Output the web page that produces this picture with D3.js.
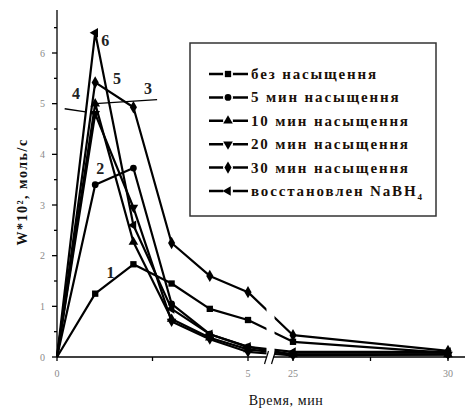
<!DOCTYPE html>
<html><head><meta charset="utf-8">
<script src="https://cdn.jsdelivr.net/npm/d3@7"></script>
<style>body{margin:0;background:#fff} text{font-family:"Liberation Serif","Times New Roman",Tinos,"Noto Serif","DejaVu Serif",serif;}</style>
</head><body><svg id="c" width="470" height="409"></svg>
<script>
// ---- data ----
const times = [0, 1, 2, 3, 4, 5, 25, 30];
const s1 = [0, 1.25, 1.83, 1.45, 0.95, 0.73, 0.30, 0.08];
const s2 = [0, 3.40, 3.73, 1.05, 0.45, 0.20, 0.05, 0.05];
const s3 = [0, 5.00, 2.27, 0.75, 0.38, 0.15, 0.05, 0.05];
const s4 = [0, 4.80, 2.95, 0.70, 0.35, 0.10, 0.03, 0.05];
const s5 = [0, 5.42, 4.93, 2.25, 1.60, 1.28, 0.43, 0.12];
const s6 = [0, 6.40, 2.60, 0.95, 0.45, 0.20, 0.10, 0.10];
const seriesNames = ["без насыщення", "5 мин насыщення", "10 мин насыщення",
  "20 мин насыщення", "30 мин насыщення", "восстановлен NaBH"];
const curveLabels = ["1", "2", "3", "4", "5", "6"];
const curveLabelX = [1.4, 1.13, 2.38, 0.5, 1.57, 1.26];
const curveLabelY = [1.56, 3.61, 5.19, 5.09, 5.39, 6.14];
const yTickLabels = [0, 1, 2, 3, 4, 5, 6];
const yMinorTicks = [0.5, 1.5, 2.5, 3.5, 4.5, 5.5, 6.5];
const xTickLabels = [0, 5, 25, 30];
const xTicksAll = [0, 2.5, 5, 25, 27.5, 30];
const xTitle = "Время, мин";
const yTitle = "W*10², моль/с";

const allSeries = [s1, s2, s3, s4, s5, s6];
const symbols = [
  {t: d3.symbolSquare, s: 40, r: 0},
  {t: d3.symbolCircle, s: 36, r: 0},
  {t: d3.symbolTriangle, s: 40, r: 0},
  {t: d3.symbolTriangle, s: 40, r: 180},
  {t: d3.symbolDiamond, s: 44, r: 0},
  {t: d3.symbolTriangle, s: 40, r: -90}
];

const svg = d3.select("#c");
const x = d3.scaleLinear().domain([0, 5, 25, 30, 30.55]).range([57, 248, 293, 448, 465]);
const y = d3.scaleLinear().domain([0, 6]).range([357, 53]);

// ---- series ----
const line = d3.line().x((d, i) => x(times[i])).y(d => y(d));
allSeries.forEach((s, k) => {
  svg.append("path").attr("d", line(s)).attr("fill", "none")
    .attr("stroke", "#000").attr("stroke-width", 2.2).attr("stroke-linejoin", "round");
});
allSeries.forEach((s, k) => {
  const sym = d3.symbol().type(symbols[k].t).size(symbols[k].s);
  svg.selectAll(null).data(s.map((v, i) => [times[i], v])).enter()
    .filter(d => d[0] > 0)
    .append("path").attr("d", sym)
    .attr("transform", d => `translate(${x(d[0])},${y(d[1])}) rotate(${symbols[k].r})`)
    .attr("fill", "#000");
});

// ---- break gap ----
const bx = (x(5) + x(25)) / 2;
svg.append("rect").attr("x", bx - 4).attr("y", y(1.2)).attr("width", 8).attr("height", y(0) - y(1.2) - 1)
  .attr("fill", "#fff");

// ---- axes ----
const ax = svg.append("g").attr("stroke", "#000").attr("stroke-width", 1.3);
ax.append("line").attr("x1", 57).attr("x2", 57).attr("y1", y(0)).attr("y2", y(6.85));
ax.append("line").attr("x1", 57).attr("x2", bx - 4).attr("y1", y(0)).attr("y2", y(0));
ax.append("line").attr("x1", bx + 3).attr("x2", x(30.55)).attr("y1", y(0)).attr("y2", y(0));
[-4, 3].forEach(o => {
  ax.append("line").attr("x1", bx + o - 2).attr("y1", y(0) + 7)
    .attr("x2", bx + o + 2).attr("y2", y(0) - 6).attr("stroke-width", 1.2);
});
yTickLabels.forEach(v => ax.append("line").attr("x1", 52).attr("x2", 57).attr("y1", y(v)).attr("y2", y(v)));
yMinorTicks.forEach(v => ax.append("line").attr("x1", 54).attr("x2", 57).attr("y1", y(v)).attr("y2", y(v)));
xTicksAll.forEach(v => ax.append("line").attr("x1", x(v)).attr("x2", x(v)).attr("y1", y(0)).attr("y2", y(0) + 4));

svg.selectAll(".yl").data(yTickLabels).enter().append("text")
  .attr("x", 45).attr("y", d => y(d) + 3.5).attr("text-anchor", "end")
  .attr("font-size", 10).attr("fill", "#8a8a8a").text(d => d);
svg.selectAll(".xl").data(xTickLabels).enter().append("text")
  .attr("x", d => x(d)).attr("y", 377).attr("text-anchor", "middle")
  .attr("font-size", 10).attr("fill", "#8a8a8a").text(d => d);

// titles
svg.append("text").attr("x", 286).attr("y", 405).attr("text-anchor", "middle")
  .attr("font-size", 14).attr("letter-spacing", 0.6).attr("fill", "#111").text(xTitle);
svg.append("text").attr("transform", "translate(27,192) rotate(-90)").attr("text-anchor", "middle")
  .attr("font-size", 14).attr("font-weight", "bold").attr("letter-spacing", 1.5)
  .attr("fill", "#111").text(yTitle);

// curve labels & pointers
curveLabels.forEach((t, i) => {
  svg.append("text").attr("x", x(curveLabelX[i])).attr("y", y(curveLabelY[i])).attr("text-anchor", "middle")
    .attr("font-size", 16).attr("font-weight", "bold").attr("fill", "#222").text(t);
});
svg.append("line").attr("x1", x(0.2)).attr("y1", y(4.9)).attr("x2", x(0.75)).attr("y2", y(4.84))
  .attr("stroke", "#000").attr("stroke-width", 1.3);
svg.append("line").attr("x1", x(1.0)).attr("y1", y(5.0)).attr("x2", x(2.62)).attr("y2", y(5.08))
  .attr("stroke", "#000").attr("stroke-width", 1.3);

// ---- legend ----
const lg = svg.append("g");
lg.append("rect").attr("x", 190).attr("y", 43).attr("width", 246).attr("height", 173)
  .attr("fill", "#fff").attr("stroke", "#333").attr("stroke-width", 1.5);
seriesNames.forEach((n, k) => {
  const cy = 74 + k * 23.4;
  lg.append("line").attr("x1", 209).attr("x2", 248).attr("y1", cy).attr("y2", cy)
    .attr("stroke", "#000").attr("stroke-width", 2.5);
  lg.append("circle").attr("cx", 228).attr("cy", cy).attr("r", 5).attr("fill", "#fff");
  lg.append("path").attr("d", d3.symbol().type(symbols[k].t).size(symbols[k].s)())
    .attr("transform", `translate(228,${cy}) rotate(${symbols[k].r})`).attr("fill", "#000");
  const t = lg.append("text").attr("x", 251).attr("y", cy + 5)
    .attr("font-size", 15).attr("font-weight", "bold")
    .attr("letter-spacing", 1.85).attr("fill", "#1a1008").text(n);
  if (k === 5) {
    t.append("tspan").attr("font-size", 9).attr("dy", 4).text("4");
  }
});
</script></body></html>
